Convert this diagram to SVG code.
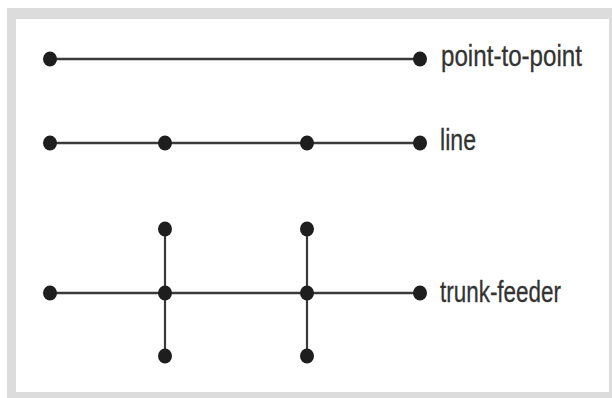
<svg xmlns="http://www.w3.org/2000/svg" width="612" height="398" viewBox="0 0 612 398">
  <style>
    .frame { fill: #dcdcdc; }
    .panel { fill: #ffffff; }
    .link { stroke: #3a3a3a; stroke-width: 2.6; fill: none; }
    .feeder { stroke: #3a3a3a; stroke-width: 2.2; fill: none; }
    .dot { fill: #1e1e1e; }
    .label { font-family: "Liberation Sans", Arial, sans-serif; font-size: 29px; fill: #333333; stroke: #333333; stroke-width: 0.3; }
  </style>
  <defs>
    <ellipse id="node" class="dot" cx="0" cy="0" rx="7" ry="7.5"/>
  </defs>

  <!-- frame -->
  <rect class="frame" x="7" y="8" width="605" height="390"/>
  <rect class="panel" x="16" y="19" width="593" height="373"/>

  <!-- connectors -->
  <g id="connectors">
    <line class="link" x1="50" y1="59" x2="420" y2="59"/>
    <line class="link" x1="50" y1="143" x2="420" y2="143"/>
    <line class="link" x1="50" y1="293" x2="420" y2="293"/>
    <line class="feeder" x1="165" y1="229" x2="165" y2="356"/>
    <line class="feeder" x1="307" y1="229" x2="307" y2="356"/>
  </g>

  <!-- point-to-point -->
  <g id="p2p-a"><use href="#node" x="50" y="59"/></g>
  <g id="p2p-b"><use href="#node" x="420" y="59"/></g>
  <g id="label-p2p"><text class="label" x="441" y="66" textLength="141" lengthAdjust="spacingAndGlyphs">point-to-point</text></g>

  <!-- line -->
  <g id="line-a"><use href="#node" x="50" y="143"/></g>
  <g id="line-b"><use href="#node" x="165" y="143"/></g>
  <g id="line-c"><use href="#node" x="307" y="143"/></g>
  <g id="line-d"><use href="#node" x="420" y="143"/></g>
  <g id="label-line"><text class="label" x="440" y="150" textLength="36" lengthAdjust="spacingAndGlyphs">line</text></g>

  <!-- trunk-feeder -->
  <g id="trunk-a"><use href="#node" x="50" y="293"/></g>
  <g id="trunk-b"><use href="#node" x="165" y="293"/></g>
  <g id="trunk-c"><use href="#node" x="307" y="293"/></g>
  <g id="trunk-d"><use href="#node" x="420" y="293"/></g>
  <g id="feeder-b-top"><use href="#node" x="165" y="229"/></g>
  <g id="feeder-b-bottom"><use href="#node" x="165" y="356"/></g>
  <g id="feeder-c-top"><use href="#node" x="307" y="229"/></g>
  <g id="feeder-c-bottom"><use href="#node" x="307" y="356"/></g>
  <g id="label-trunk"><text class="label" x="440" y="302" textLength="121" lengthAdjust="spacingAndGlyphs">trunk-feeder</text></g>
</svg>
